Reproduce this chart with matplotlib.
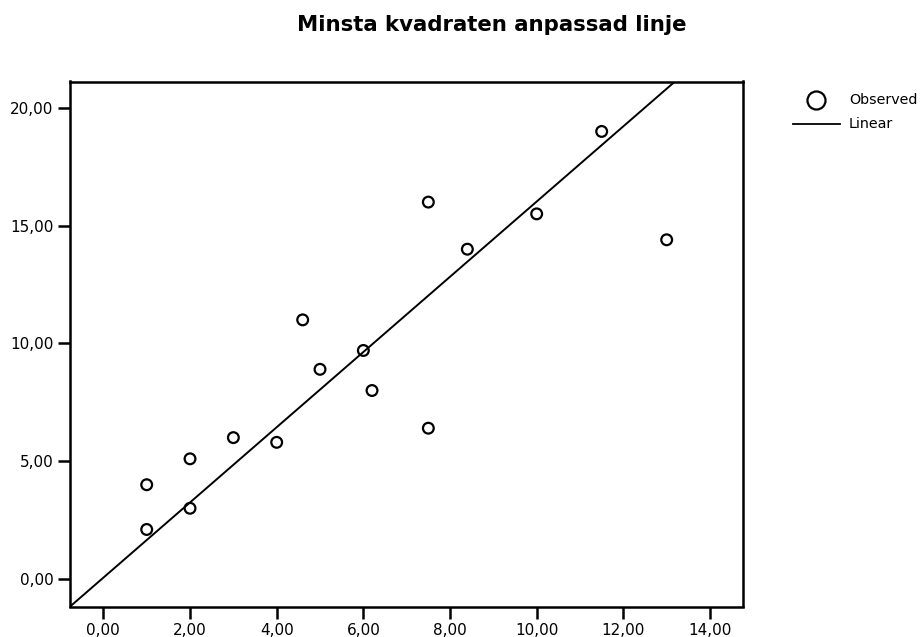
import numpy as np
import matplotlib
matplotlib.use("Agg")
import matplotlib.pyplot as plt
from matplotlib.lines import Line2D

plt.rcParams['font.family'] = ['DejaVu Sans']

x_obs = [1, 1, 2, 2, 3, 4, 4.6, 5, 6, 6.2, 7.5, 7.5, 8.4, 10, 11.5, 13]
y_obs = [2.1, 4.0, 5.1, 3.0, 6.0, 5.8, 11.0, 8.9, 9.7, 8.0, 16.0, 6.4, 14.0, 15.5, 19.0, 14.4]
x_ticks = [0, 2, 4, 6, 8, 10, 12, 14]
y_ticks = [0, 5, 10, 15, 20]
title = "Minsta kvadraten anpassad linje"
legend_labels = ["Observed", "Linear"]

W, H = 923, 637
fig = plt.figure(figsize=(W / 100, H / 100), dpi=100)
ax_l, ax_r, ax_t, ax_b = 70, 742.5, 81.5, 606.5
ax = fig.add_axes([ax_l / W, 1 - ax_b / H, (ax_r - ax_l) / W, (ax_b - ax_t) / H])

xlim = (-0.77, 14.75)
ylim = (-1.17, 21.12)

ax.scatter(x_obs, y_obs, s=60, facecolors='none', edgecolors='black', linewidths=1.6, zorder=3)

# fitted linear line
a, b = np.polyfit(y_obs, x_obs, 1)
xx = np.array(xlim)
ax.plot(xx, (xx - b) / a, color='black', lw=1.4, zorder=2)

ax.set_xlim(*xlim)
ax.set_ylim(*ylim)
ax.set_xticks(x_ticks)
ax.set_yticks(y_ticks)
ax.set_xticklabels([f"{v:.2f}".replace('.', ',') for v in x_ticks], fontsize=11)
ax.set_yticklabels([f"{v:.2f}".replace('.', ',') for v in y_ticks], fontsize=11)
ax.tick_params(direction='out', length=8.5, width=1.8, pad=3.5, colors='black')
for s in ax.spines.values():
    s.set_linewidth(1.8)

fig.text(492 / W, 1 - 25 / H, title, ha='center', va='center', fontsize=15.3, fontweight='bold')

# legend
fig.add_artist(Line2D([816 / W], [1 - 100 / H], marker='o', markersize=13, markerfacecolor='none',
                      markeredgecolor='black', markeredgewidth=1.6, linestyle='none'))
fig.add_artist(Line2D([793 / W, 840 / W], [1 - 124 / H, 1 - 124 / H], color='black', lw=1.3))
fig.text(849 / W, 1 - 100 / H, legend_labels[0], ha='left', va='center', fontsize=10.3)
fig.text(849 / W, 1 - 124 / H, legend_labels[1], ha='left', va='center', fontsize=10.3)

fig.savefig("out.png", dpi=100)
